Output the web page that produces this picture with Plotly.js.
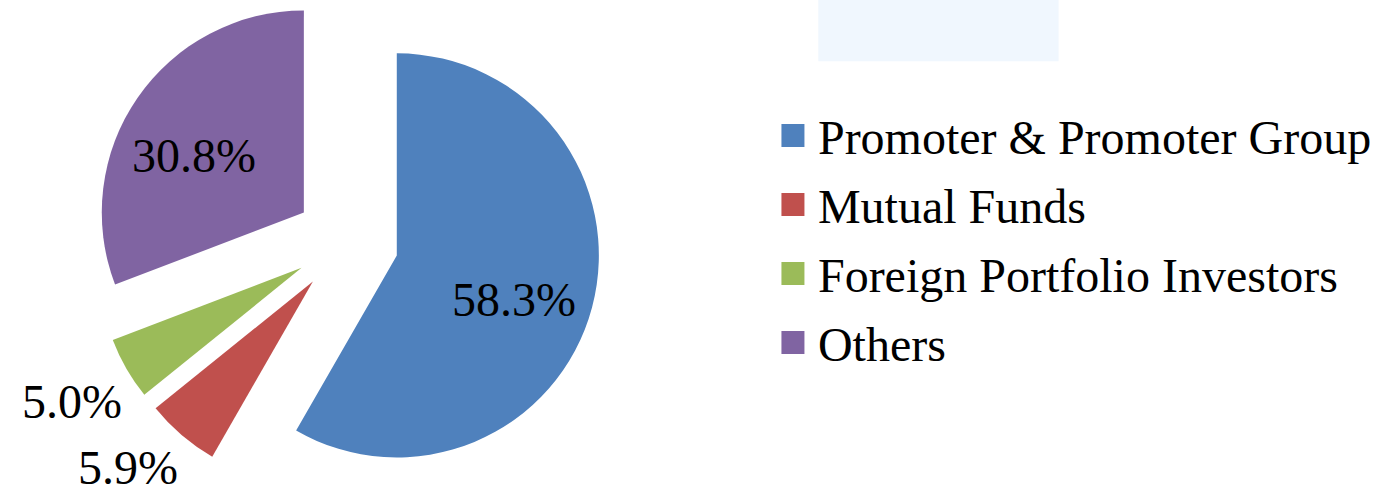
<!DOCTYPE html>
<html>
<head>
<meta charset="utf-8">
<script src="https://cdn.plot.ly/plotly-3.0.1.min.js"></script>
<style>
  html, body { margin: 0; padding: 0; background: #fff; overflow: hidden; }
  #chart { position: absolute; left: 0; top: -12px; width: 1377px; height: 508px; }
</style>
</head>
<body>
<div id="chart"></div>
<script>
// shareholding pattern
let categories = ["Promoter & Promoter Group", "Mutual Funds", "Foreign Portfolio Investors", "Others"];
let shares = [58.3, 5.9, 5.0, 30.8];
let sliceColors = ["#4F81BD", "#C0504D", "#9BBB59", "#8064A2"];
let pulls = [0.257, 0.257, 0.257, 0.257];

// where each percentage label sits (window pixels)
let labelX = [515, 128, 72.5, 194.5];
let labelY = [299.5, 467.5, 401, 155.5];

const W = 1377, H = 508, TOP = -12;
let labelFont = { family: "Liberation Serif, Times New Roman, serif", size: 48, color: "#000" };

let trace = {
    type: "pie",
    labels: categories,
    values: shares,
    sort: false,
    direction: "clockwise",
    rotation: 0,
    pull: pulls,
    marker: { colors: sliceColors, line: { width: 0 } },
    textinfo: "none",
    hoverinfo: "label+percent",
    domain: { x: [0, 0.5049], y: [0, 1] }
};

let annotations = [];
for (let i = 0; i < shares.length; i++) {
    annotations.push({
        text: shares[i].toFixed(1) + "%",
        xref: "paper", yref: "paper",
        x: labelX[i] / W,
        y: 1 - (labelY[i] - TOP) / H,
        xanchor: "center", yanchor: "middle",
        showarrow: false,
        font: labelFont
    });
}

let layout = {
    width: W,
    height: H,
    margin: { l: 0, r: 0, t: 0, b: 0 },
    paper_bgcolor: "#fff",
    showlegend: true,
    legend: {
        x: 0.5666, y: 0.784, xanchor: "left", yanchor: "top",
        font: labelFont,
        bgcolor: "rgba(0,0,0,0)",
        traceorder: "normal"
    },
    annotations: annotations,
    shapes: [
        { type: "rect", xref: "paper", yref: "paper", x0: 0.596, x1: 0.771, y0: 0.856, y1: 1.02,
          fillcolor: "#f0f7fe", line: { width: 0 }, layer: "below" }
    ]
};

Plotly.newPlot("chart", [trace], layout, { displayModeBar: false, staticPlot: true }).then(function (gd) {
    // bigger legend swatches and a bit more room between rows, like the original
    gd.querySelectorAll(".legend .legendpoints path").forEach(function (p) {
        p.setAttribute("d", "M6.5,11.5H-16.5V-11.5H6.5Z");
    });
    let items = gd.querySelectorAll(".legend .traces");
    if (items.length) {
        let m = /translate\(([-\d.]+)[ ,]+([-\d.]+)\)/.exec(items[0].getAttribute("transform") || "");
        if (m) {
            let x0 = parseFloat(m[1]), y0 = parseFloat(m[2]);
            items.forEach(function (g, i) {
                g.setAttribute("transform", "translate(" + x0 + "," + (y0 + i * 69) + ")");
            });
        }
    }
});
</script>
</body>
</html>
